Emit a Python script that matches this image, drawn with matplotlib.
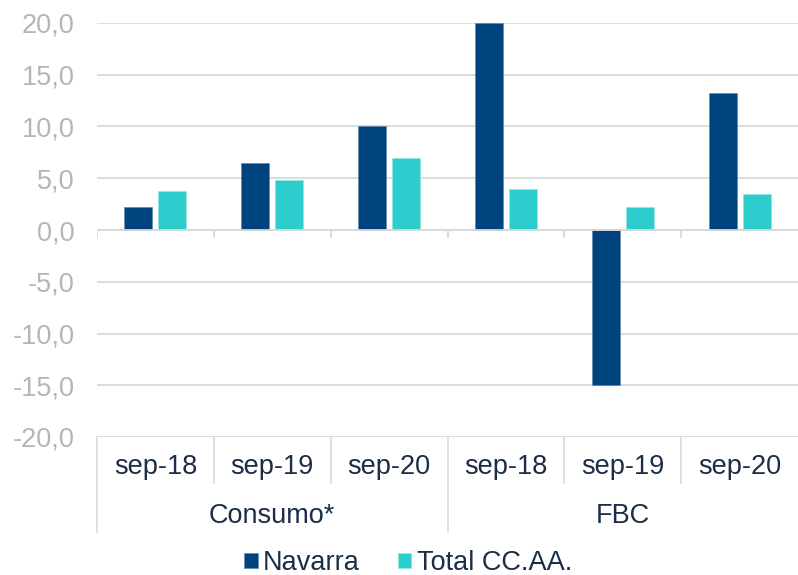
import numpy as np
import matplotlib.pyplot as plt

# datos
grupos = ["Consumo*", "FBC"]
periodos = ["sep-18", "sep-19", "sep-20", "sep-18", "sep-19", "sep-20"]
navarra = [2.2, 6.5, 10.0, 20.0, -15.0, 13.2]
total_ccaa = [3.8, 4.8, 7.0, 4.0, 2.2, 3.5]

c_navarra = "#00447f"
c_total = "#2ecdcd"
c_grid = "#d9d9d9"
c_texto = "#1c2d48"

plt.rcParams["font.family"] = ["Liberation Sans", "DejaVu Sans"]

fig = plt.figure(figsize=(7.98, 5.75), dpi=100)
ax = fig.add_axes([97 / 798, 1 - 437 / 575, 701 / 798, 414 / 575])

x = np.arange(len(periodos)) + 0.5
ancho = 0.24
desp = 0.145
ax.bar(x - desp, navarra, ancho, color=c_navarra, edgecolor="#5f84a8", linewidth=0.4,
       label="Navarra", zorder=3)
ax.bar(x + desp, total_ccaa, ancho, color=c_total, edgecolor="#8fe3e3", linewidth=0.4,
       label="Total CC.AA.", zorder=3)

ax.set_xlim(0, len(periodos))
ax.set_ylim(-20, 20)
ticks = np.arange(-20, 21, 5)
ax.set_yticks(ticks)
ax.set_yticklabels([f"{t:.1f}".replace(".", ",") for t in ticks])
ax.tick_params(axis="y", length=0, pad=16, labelsize=19.5, labelcolor="#b5b5b5")
ax.set_xticks([])
for s in ax.spines.values():
    s.set_visible(False)
ax.grid(axis="y", color=c_grid, linewidth=1.3, zorder=0)
ax.axhline(0, color=c_grid, linewidth=1.3, zorder=4)

# marcas en el eje cero
bordes = np.arange(len(periodos) + 1)
ax.vlines(bordes[:-1], 0, -0.75, color=c_grid, linewidth=1.3, zorder=4)

# tabla de categorias bajo el eje
tr = ax.get_xaxis_transform()
for b in bordes[:-1]:
    largo = -0.229 if b % 3 == 0 else -0.111
    ax.plot([b, b], [0, largo], transform=tr, color=c_grid, linewidth=1.2, clip_on=False)
for xi, p in zip(x, periodos):
    ax.text(xi, -0.0725, p, transform=tr, ha="center", va="center", fontsize=19.5, color=c_texto)
for i, g in enumerate(grupos):
    ax.text(i * 3 + 1.5, -0.191, g, transform=tr, ha="center", va="center", fontsize=19.5,
            color=c_texto)

fig.legend(loc="center", bbox_to_anchor=(408 / 798, 1 - 563 / 575), ncol=2, frameon=False,
           fontsize=19.5, handlelength=0.5, handleheight=0.5, handletextpad=0.2,
           columnspacing=1.4, labelcolor=c_texto)

fig.savefig("out.png", dpi=100)
